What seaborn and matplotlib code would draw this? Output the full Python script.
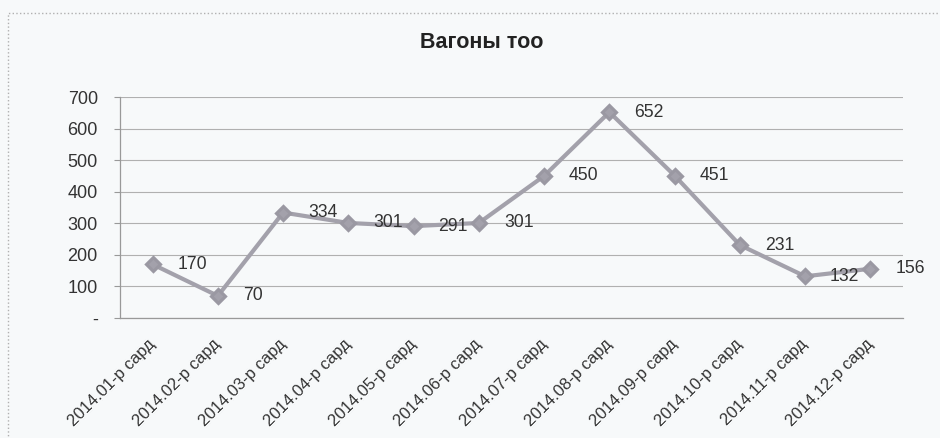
import matplotlib
matplotlib.use('Agg')
import matplotlib.pyplot as plt
from matplotlib.patches import Rectangle
import seaborn as sns

months = ['2014.01-р сард', '2014.02-р сард', '2014.03-р сард', '2014.04-р сард',
          '2014.05-р сард', '2014.06-р сард', '2014.07-р сард', '2014.08-р сард',
          '2014.09-р сард', '2014.10-р сард', '2014.11-р сард', '2014.12-р сард']
wagons = [170, 70, 334, 301, 291, 301, 450, 652, 451, 231, 132, 156]
yticks = [0, 100, 200, 300, 400, 500, 600, 700]
ytick_labels = ['-', '100', '200', '300', '400', '500', '600', '700']
title = 'Вагоны тоо'

sns.set_style('white')
plt.rcParams['font.family'] = ['Liberation Sans', 'DejaVu Sans']

bg = '#f7f9fa'
txt = '#333333'
f = plt.figure(figsize=(9.4, 4.38), dpi=100, facecolor=bg)
ax = f.add_axes([120 / 940, 1 - 318 / 438, 783 / 940, 221 / 438])
ax.set_facecolor(bg)

sns.pointplot(x=months, y=wagons, ax=ax, color='#a3a1ab', markers='D',
              markersize=7, linewidth=3)
for line in ax.lines:
    line.set_markeredgecolor('#9a98a2')

# data labels right of each point
for i, v in enumerate(wagons):
    ax.annotate(str(v), (i, v), xytext=(25, 0), textcoords='offset pixels',
                ha='left', va='center', fontsize=12.7, color=txt)

ax.set_xlim(-0.5, len(months) - 0.5)
ax.set_ylim(0, 700)
ax.set_yticks(yticks)
ax.set_yticklabels(ytick_labels)
ax.yaxis.grid(True, color='#b0b0b0', linewidth=0.8)
ax.set_axisbelow(True)

ax.set_xticks(range(len(months)))
ax.set_xticklabels(months, rotation=45, ha='right', va='center',
                   rotation_mode='anchor')
ax.set_xticks([i - 0.5 for i in range(len(months) + 1)], minor=True)
ax.tick_params(axis='x', which='major', length=0, pad=17, labelsize=12, labelcolor=txt)
ax.tick_params(axis='x', which='minor', length=5, color='#999999', direction='out')
ax.tick_params(axis='y', length=4, color='#999999', pad=12, labelsize=13, labelcolor=txt, left=True)

for s in ['top', 'right']:
    ax.spines[s].set_visible(False)
for s in ['left', 'bottom']:
    ax.spines[s].set_color('#999999')
    ax.spines[s].set_linewidth(0.9)
ax.set_xlabel('')
ax.set_ylabel('')

f.text(482 / 940, 1 - 43 / 438, title, ha='center', va='center', fontsize=15.5,
       fontweight='bold', color='#222222')

f.patches.append(Rectangle((8 / 940, -0.1), 1.2, 1 - 13 / 438 + 0.1,
                           transform=f.transFigure, fill=False,
                           edgecolor='#b0b0b0', linestyle=':', linewidth=1))

f.savefig('out.png', dpi=100, facecolor=bg)
